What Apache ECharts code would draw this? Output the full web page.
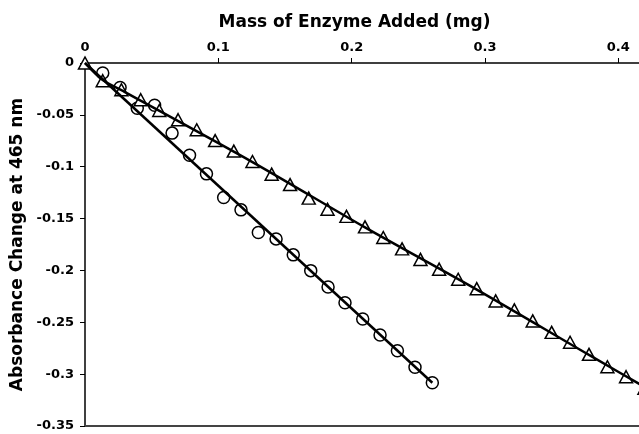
<!DOCTYPE html>
<html>
<head>
<meta charset="UTF-8">
<title>Absorbance vs Enzyme Mass</title>
<script src="https://cdn.jsdelivr.net/npm/echarts@6/dist/echarts.min.js"></script>
<style>
    html, body { margin: 0; padding: 0; background: #fff; }
    #main { width: 639px; height: 434px; }
</style>
</head>
<body>
<div id="main"></div>
<script>
    // triangle series (x in mg, y absorbance change)
    const triX = [0, 0.0133, 0.0273, 0.0418, 0.0557, 0.0698, 0.0838, 0.0976, 0.1116, 0.1256,
                  0.1400, 0.1538, 0.1678, 0.1819, 0.1961, 0.2100, 0.2237, 0.2378, 0.2516, 0.2656,
                  0.2799, 0.2938, 0.3080, 0.3220, 0.3358, 0.3500, 0.3638, 0.3780, 0.3918, 0.4058, 0.4196];
    const triY = [0, -0.0171, -0.0258, -0.0354, -0.0458, -0.0547, -0.0644, -0.0748, -0.0849, -0.0950,
                  -0.1072, -0.1172, -0.1303, -0.1410, -0.1479, -0.1580, -0.1683, -0.1792, -0.1894, -0.1988,
                  -0.2085, -0.2176, -0.2294, -0.2381, -0.2487, -0.2597, -0.2693, -0.2809, -0.2929, -0.3025, -0.3136];

    // circle series
    const circX = [0.0133, 0.0263, 0.0392, 0.0522, 0.0653, 0.0784, 0.0911, 0.1040, 0.1170, 0.1300,
                   0.1433, 0.1562, 0.1693, 0.1823, 0.1950, 0.2083, 0.2213, 0.2343, 0.2475, 0.2605];
    const circY = [-0.0097, -0.0236, -0.0436, -0.0407, -0.0676, -0.0890, -0.1069, -0.1297, -0.1416, -0.1635,
                   -0.1696, -0.1850, -0.2002, -0.2159, -0.2311, -0.2468, -0.2623, -0.2774, -0.2934, -0.3083];

    // trend lines
    const triFitX = [0, 0.0133, 0.03, 0.1256, 0.21, 0.2938, 0.378, 0.43];
    const triFitY = [0, -0.0165, -0.028, -0.0955, -0.1585, -0.2185, -0.2815, -0.320];
    const circFitX = [0, 0.2605];
    const circFitY = [0, -0.3083];

    const zip = (xs, ys) => xs.map((x, i) => [x, ys[i]]);

    const labelFont = { fontFamily: 'DejaVu Sans', fontWeight: 'bold', fontSize: 13, color: '#000' };
    const nameFont = { fontFamily: 'DejaVu Sans', fontWeight: 'bold', fontSize: 17, color: '#000' };

    const chart = echarts.init(document.getElementById('main'));

    const option = {
        animation: false,
        backgroundColor: '#fff',
        grid: { left: 85, right: 0, top: 63, bottom: 8 },
        xAxis: [
            {
                type: 'value',
                position: 'top',
                min: 0,
                max: 0.4155,
                interval: 0.1,
                name: 'Mass of Enzyme Added (mg)',
                nameLocation: 'middle',
                nameGap: 32,
                nameTextStyle: Object.assign({ padding: [0, 15, 0, 0] }, nameFont),
                axisLine: { lineStyle: { color: '#000', width: 1.5 } },
                axisTick: { inside: false, length: 5, lineStyle: { color: '#000', width: 1 } },
                axisLabel: Object.assign({ margin: 9, showMaxLabel: false }, labelFont),
                splitLine: { show: false }
            },
            {
                type: 'value',
                position: 'bottom',
                min: 0,
                max: 0.4155,
                axisLine: { lineStyle: { color: '#444', width: 2 } },
                axisTick: { show: false },
                axisLabel: { show: false },
                splitLine: { show: false }
            }
        ],
        yAxis: {
            type: 'value',
            min: -0.35,
            max: 0,
            interval: 0.05,
            name: 'Absorbance Change at 465 nm',
            nameLocation: 'middle',
            nameGap: 57,
            nameTextStyle: nameFont,
            axisLine: { lineStyle: { color: '#000', width: 1.5 } },
            axisTick: { inside: false, length: 5, lineStyle: { color: '#000', width: 1 } },
            axisLabel: Object.assign({ margin: 11 }, labelFont),
            splitLine: { show: false }
        },
        series: [
            {
                name: 'triangle fit',
                type: 'line',
                data: zip(triFitX, triFitY),
                smooth: 0.3,
                showSymbol: false,
                clip: false,
                lineStyle: { color: '#000', width: 2.5 }
            },
            {
                name: 'circle fit',
                type: 'line',
                data: zip(circFitX, circFitY),
                showSymbol: false,
                clip: false,
                lineStyle: { color: '#000', width: 2.5 }
            },
            {
                name: 'circles',
                type: 'scatter',
                data: zip(circX, circY),
                symbol: 'circle',
                symbolSize: 12,
                itemStyle: { color: '#fff', borderColor: '#000', borderWidth: 1.5, opacity: 1 }
            },
            {
                name: 'triangles',
                type: 'scatter',
                data: zip(triX, triY),
                symbol: 'triangle',
                symbolSize: [13, 12],
                clip: false,
                itemStyle: { color: '#fff', borderColor: '#000', borderWidth: 1.5, opacity: 1 }
            }
        ]
    };

    chart.setOption(option);
</script>
</body>
</html>
